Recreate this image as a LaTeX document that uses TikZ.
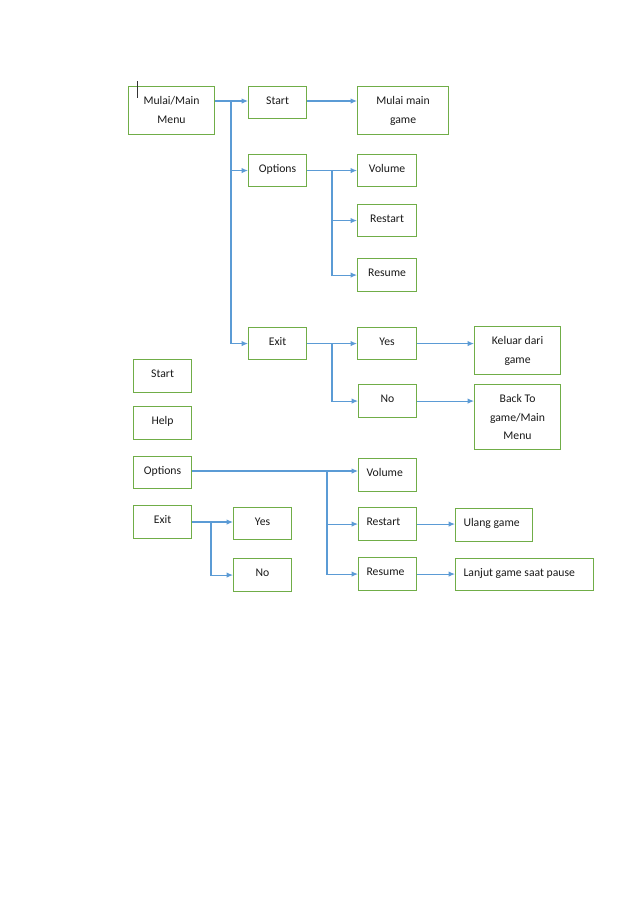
\documentclass[tikz,border=0pt]{standalone}
\usepackage{fontspec}
\setmainfont{Carlito}
\usetikzlibrary{arrows.meta}
\definecolor{boxgreen}{HTML}{70AD47}
\definecolor{lineblue}{HTML}{5B9BD5}
\definecolor{txtcol}{HTML}{1A1A1A}
\newcommand{\bxc}[3]{\parbox[c][#2pt][t]{#1pt}{\centering\rule{0pt}{18pt}#3}}
\newcommand{\bxl}[3]{\parbox[c][#2pt][t]{#1pt}{\raggedright\rule{0pt}{18pt}\hspace*{8pt}#3}}
\tikzset{
  box/.style={draw=boxgreen, line width=1.1pt, inner sep=0pt, anchor=north west,
    text=txtcol, font=\fontsize{11.7}{18.5}\selectfont},
  conn/.style={draw=lineblue, line width=1.1pt},
  arr/.style={conn, -{Latex[length=6.5pt,width=5.5pt]}}
}
\begin{document}
\begin{tikzpicture}[x=1pt,y=-1pt]
\useasboundingbox[fill=white] (0,0) rectangle (638,903);
% top section
\node[box] (mulai) at (128,86) {\bxc{86}{48}{Mulai/Main\\Menu}};
\node[box] (start) at (248,86) {\bxc{58}{32}{Start}};
\node[box] (mgame) at (357,86) {\bxc{91}{48}{Mulai main\\game}};
\node[box] (options) at (248,154) {\bxc{58}{32}{Options}};
\node[box] (volume) at (357,154) {\bxc{59}{32}{Volume}};
\node[box] (restart) at (357,204) {\bxc{59}{32}{Restart}};
\node[box] (resume) at (357,258) {\bxc{59}{33}{Resume}};
\node[box] (exit) at (248,327) {\bxc{58}{32}{Exit}};
\node[box] (yes) at (357,327) {\bxc{59}{32}{Yes}};
\node[box] (no) at (358,384) {\bxc{58}{33}{No}};
\node[box] (keluar) at (474,326) {\bxc{86}{48}{Keluar dari\\game}};
\node[box] (backto) at (474,384) {\bxc{86}{65}{Back To\\game/Main\\Menu}};
% bottom section
\node[box] (start2) at (133,359) {\bxc{58}{33}{Start}};
\node[box] (help) at (133,406) {\bxc{58}{33}{Help}};
\node[box] (options2) at (133,456) {\bxc{58}{32}{Options}};
\node[box] (exit2) at (133,505) {\bxc{58}{33}{Exit}};
\node[box] (yes2) at (233,507) {\bxc{58}{32}{Yes}};
\node[box] (no2) at (233,558) {\bxc{58}{33}{No}};
\node[box] (volume2) at (358,458) {\bxl{58}{33}{Volume}};
\node[box] (restart2) at (358,507) {\bxl{58}{33}{Restart}};
\node[box] (resume2) at (358,557) {\bxl{58}{33}{Resume}};
\node[box] (ulang) at (455,508) {\bxl{77}{33}{Ulang game}};
\node[box] (lanjut) at (455,558) {\bxl{138}{32}{Lanjut game saat pause}};
% cursor mark
\coordinate (cur1) at (137,81);
\coordinate (cur2) at (137,98);
\draw[black!80, line width=0.8pt] (cur1) -- (cur2);
% trunk coordinates
\coordinate (t1) at (231,101);
\coordinate (t2) at (332,170);
\coordinate (t3) at (332,343);
\coordinate (t4) at (327,471);
\coordinate (t5) at (211,522);
% top connectors
\draw[arr] (mulai.east |- t1) -- (start.west |- t1);
\draw[conn] (t1) -- (t1 |- exit.west);
\draw[arr] (t1 |- options.west) -- (options.west);
\draw[arr] (t1 |- exit.west) -- (exit.west);
\draw[arr] (start.east |- t1) -- (mgame.west |- t1);
\draw[arr] (options.east) -- (volume.west);
\draw[arr] (t2) |- (restart.west);
\draw[arr] (t2) |- (resume.west);
\draw[arr] (exit.east) -- (yes.west);
\draw[arr] (t3) |- (no.west);
\draw[arr] (yes.east) -- (keluar.west |- yes.east);
\draw[arr] (no.east) -- (backto.west |- no.east);
% bottom connectors
\draw[arr] (options2.east |- t4) -- (volume2.west |- t4);
\draw[arr] (t4) |- (restart2.west);
\draw[arr] (t4) |- (resume2.west);
\draw[arr] (exit2.east |- t5) -- (yes2.west |- t5);
\draw[arr] (t5) |- (no2.west);
\draw[arr] (restart2.east) -- (ulang.west |- restart2.east);
\draw[arr] (resume2.east) -- (lanjut.west |- resume2.east);
\end{tikzpicture}
\end{document}
